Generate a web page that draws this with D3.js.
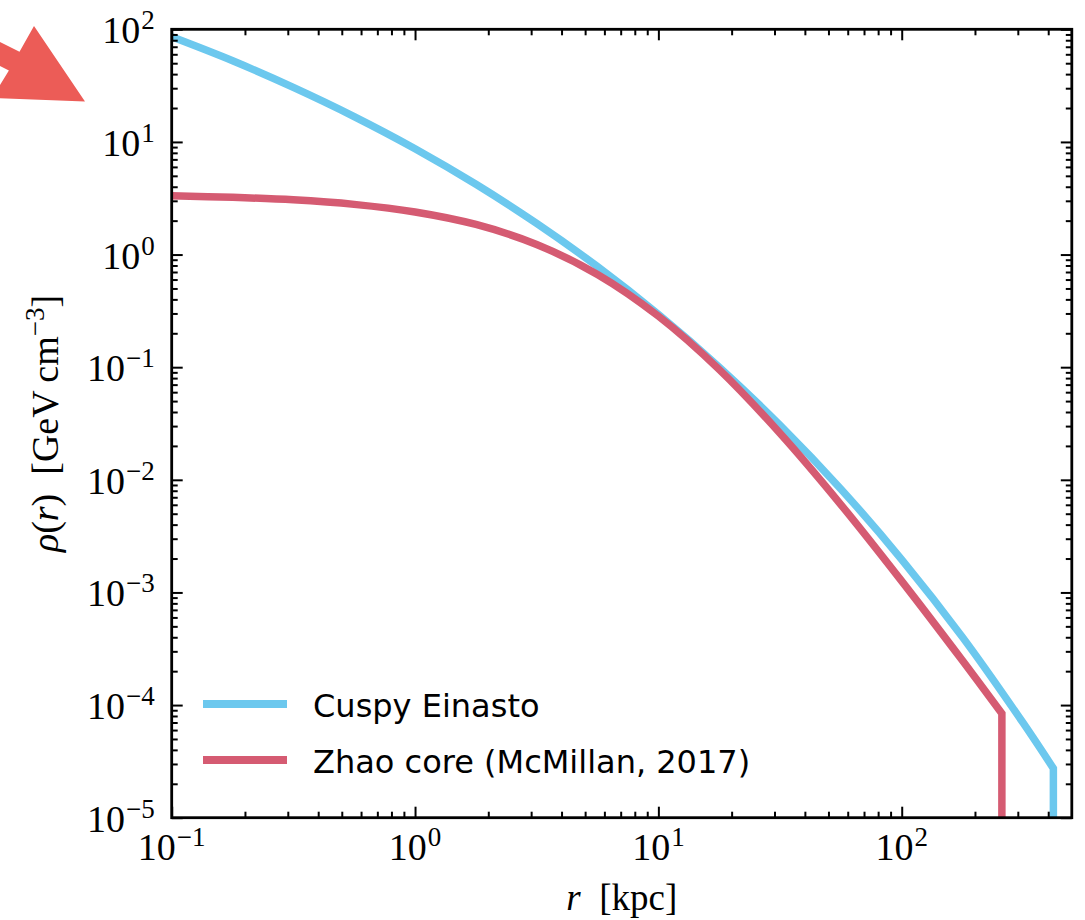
<!DOCTYPE html>
<html><head><meta charset="utf-8">
<script src="https://cdn.jsdelivr.net/npm/d3@7"></script>
<style>body{margin:0;background:#fff} svg{display:block}</style>
</head><body>
<svg id="chart" width="1085" height="920"></svg>
<script>
// ---- data ----
const seriesNames = ["Cuspy Einasto", "Zhao core (McMillan, 2017)"];
const radiusEinasto = [0.1, 0.178, 0.316, 0.562, 1, 1.78, 3.16, 5.62, 10, 17.8, 31.6, 56.2, 100, 178, 316, 420];
const rhoEinasto = [85.7, 52.5, 30.5, 16.8, 8.71, 4.21, 1.89, 0.782, 0.294, 0.100, 0.0306, 0.0083, 0.00196, 0.000399, 0.000069, 0.0000274];
const radiusZhao = [0.1, 0.178, 0.316, 0.562, 1, 1.78, 3.16, 5.62, 10, 17.8, 31.6, 56.2, 100, 178, 258];
const rhoZhao = [3.32, 3.22, 3.06, 2.79, 2.39, 1.85, 1.23, 0.666, 0.284, 0.0952, 0.0259, 0.00603, 0.00126, 0.000247, 0.0000842];
const xMajorTicks = [0.1, 1, 10, 100];
const xTickLabels = [["10","−1"],["10","0"],["10","1"],["10","2"]];
const yMajorTicks = [1e-5, 1e-4, 1e-3, 1e-2, 1e-1, 1, 10, 100];
const yTickLabels = [["10","−5"],["10","−4"],["10","−3"],["10","−2"],["10","−1"],["10","0"],["10","1"],["10","2"]];
const xDomain = [0.1, 500];
const yDomain = [1e-5, 100];

// ---- layout ----
const M = {left: 171.7, top: 29.3, right: 1071.8, bottom: 817.7};
const colors = ["#6cc8ee", "#d55b72"];
const svg = d3.select("#chart");

const x = d3.scaleLog().domain(xDomain).range([M.left, M.right]);
const y = d3.scaleLog().domain(yDomain).range([M.bottom, M.top]);

const minorX = [];
for (let k = -1; k <= 2; k++) for (let m = 2; m <= 9; m++) { const v = m * Math.pow(10, k); if (v < xDomain[1]) minorX.push(v); }
const minorY = [];
for (let k = -5; k <= 1; k++) for (let m = 2; m <= 9; m++) minorY.push(m * Math.pow(10, k));

// arrow annotation (top-left)
svg.append("polygon")
  .attr("points", "-20,32 19.5,51.7 34,26 85,101.5 -8,98 8.9,70.5 -20,56")
  .attr("fill", "#ec5c57");

// clip
svg.append("clipPath").attr("id", "clip").append("rect")
  .attr("x", M.left).attr("y", M.top).attr("width", M.right - M.left).attr("height", M.bottom - M.top);

const line = d3.line().x(d => x(d[0])).y(d => y(d[1])).curve(d3.curveCatmullRom.alpha(0.5));
const series = [
  {pts: radiusEinasto.map((r, i) => [r, rhoEinasto[i]]), color: colors[0]},
  {pts: radiusZhao.map((r, i) => [r, rhoZhao[i]]), color: colors[1]}
];
const gLines = svg.append("g").attr("clip-path", "url(#clip)");
series.forEach(s => {
  const last = s.pts[s.pts.length - 1];
  gLines.append("path")
    .attr("d", line(s.pts) + "L" + x(last[0]) + "," + (y(yDomain[0]) + 10))
    .attr("fill", "none").attr("stroke", s.color).attr("stroke-width", 7.5)
    .attr("stroke-linejoin", "miter").attr("stroke-linecap", "butt");
});

// ticks (inward, all four sides)
function styleAxis(g) { g.select(".domain").remove(); g.selectAll(".tick line").attr("stroke", "#000").attr("stroke-width", 2); g.selectAll("text").remove(); }
const major = 11, minor = 6;
svg.append("g").attr("transform", `translate(0,${M.bottom})`).call(d3.axisBottom(x).tickValues(xMajorTicks).tickSize(-major).tickFormat("")).call(styleAxis);
svg.append("g").attr("transform", `translate(0,${M.bottom})`).call(d3.axisBottom(x).tickValues(minorX).tickSize(-minor).tickFormat("")).call(styleAxis);
svg.append("g").attr("transform", `translate(0,${M.top})`).call(d3.axisTop(x).tickValues(xMajorTicks).tickSize(-major).tickFormat("")).call(styleAxis);
svg.append("g").attr("transform", `translate(0,${M.top})`).call(d3.axisTop(x).tickValues(minorX).tickSize(-minor).tickFormat("")).call(styleAxis);
svg.append("g").attr("transform", `translate(${M.left},0)`).call(d3.axisLeft(y).tickValues(yMajorTicks).tickSize(-major).tickFormat("")).call(styleAxis);
svg.append("g").attr("transform", `translate(${M.left},0)`).call(d3.axisLeft(y).tickValues(minorY).tickSize(-minor).tickFormat("")).call(styleAxis);
svg.append("g").attr("transform", `translate(${M.right},0)`).call(d3.axisRight(y).tickValues(yMajorTicks).tickSize(-major).tickFormat("")).call(styleAxis);
svg.append("g").attr("transform", `translate(${M.right},0)`).call(d3.axisRight(y).tickValues(minorY).tickSize(-minor).tickFormat("")).call(styleAxis);

// frame
svg.append("rect").attr("x", M.left).attr("y", M.top).attr("width", M.right - M.left).attr("height", M.bottom - M.top)
  .attr("fill", "none").attr("stroke", "#000").attr("stroke-width", 2.8);

const serif = "'Liberation Serif', 'DejaVu Serif', serif";
function expLabel(g, xx, yy, anchor, parts) {
  const t = g.append("text").attr("x", xx).attr("y", yy).attr("text-anchor", anchor)
    .attr("font-family", serif).attr("font-size", 38).attr("fill", "#000");
  t.append("tspan").text(parts[0]);
  t.append("tspan").attr("font-size", 27).attr("dy", -14).attr("dx", 1).text(parts[1]);
  return t;
}
const gLab = svg.append("g");
xMajorTicks.forEach((v, i) => expLabel(gLab, x(v), M.bottom + 42, "middle", xTickLabels[i]));
yMajorTicks.forEach((v, i) => expLabel(gLab, M.left - 17, y(v) + 14, "end", yTickLabels[i]));

// axis titles
const xt = svg.append("text").attr("x", (M.left + M.right) / 2).attr("y", 910).attr("text-anchor", "middle")
  .attr("font-family", serif).attr("font-size", 37);
xt.append("tspan").attr("font-style", "italic").text("r");
xt.append("tspan").text("\u2002[kpc]");

const yt = svg.append("text").attr("transform", `translate(58,${(M.top + M.bottom) / 2}) rotate(-90)`).attr("text-anchor", "middle")
  .attr("font-family", serif).attr("font-size", 38);
yt.append("tspan").attr("font-style", "italic").text("ρ");
yt.append("tspan").text("(");
yt.append("tspan").attr("font-style", "italic").text("r");
yt.append("tspan").text(")\u2002[GeV\u2009cm");
yt.append("tspan").attr("font-size", 27).attr("dy", -14).text("−3");
yt.append("tspan").attr("dy", 14).text("]");

// legend
const sans = "'DejaVu Sans', 'Liberation Sans', sans-serif";
const leg = svg.append("g");
seriesNames.forEach((name, i) => {
  const ly = 704 + i * 56;
  leg.append("line").attr("x1", 203).attr("x2", 287).attr("y1", ly).attr("y2", ly)
    .attr("stroke", colors[i]).attr("stroke-width", 8);
  leg.append("text").attr("x", 313).attr("y", ly + 13).attr("font-family", sans).attr("font-size", 32)
    .attr("fill", "#000").text(name);
});
</script></body></html>
